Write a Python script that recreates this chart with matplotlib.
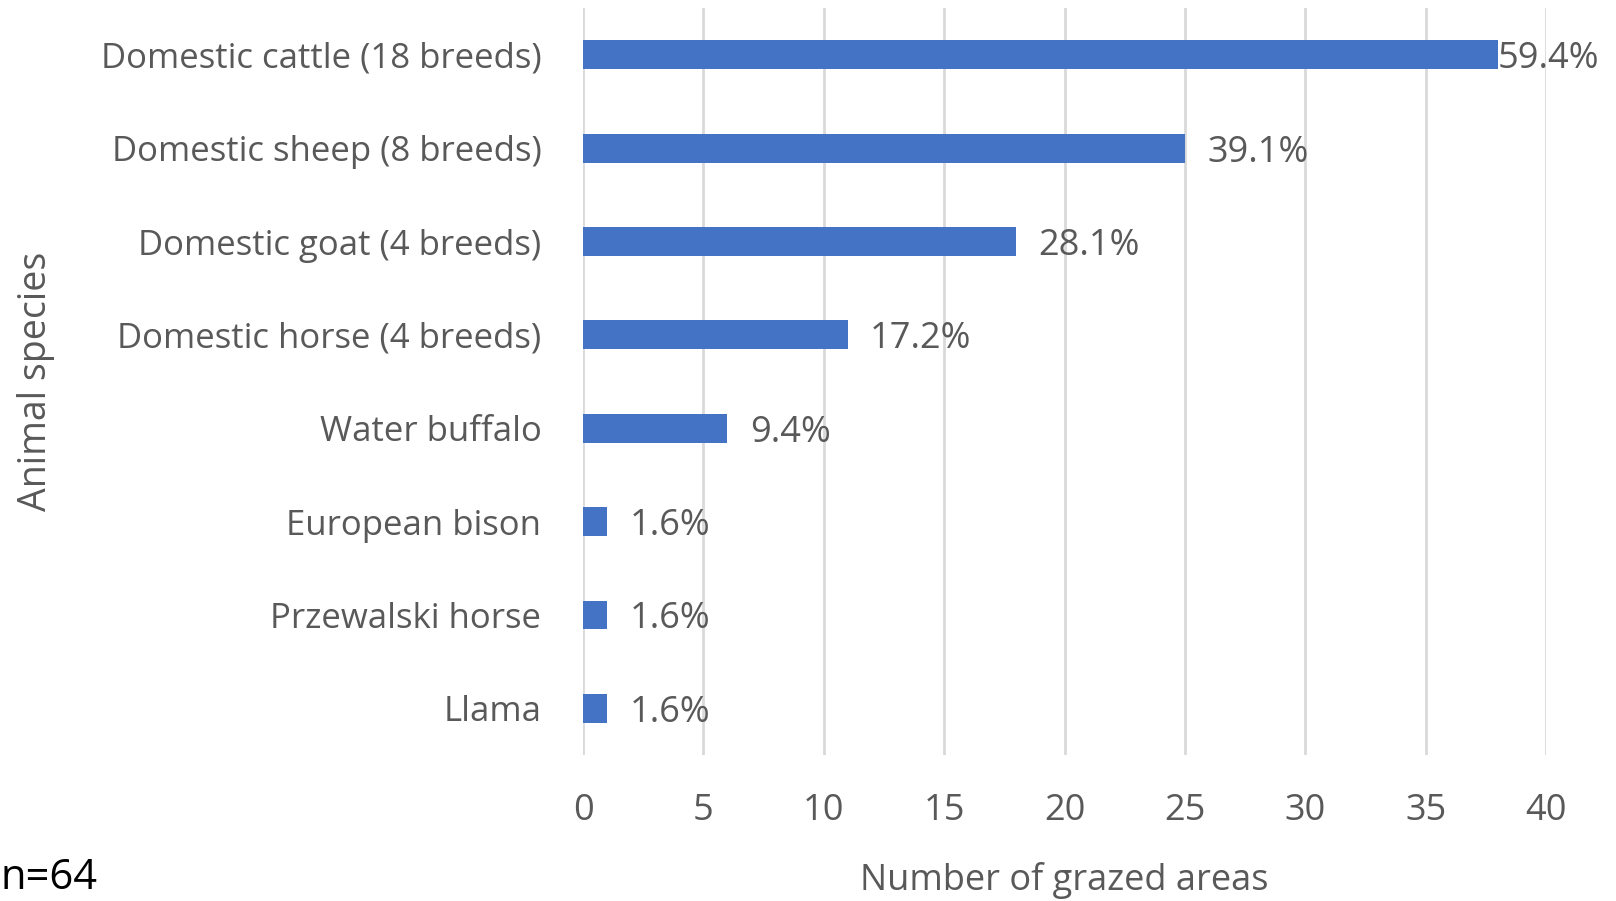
import matplotlib
import matplotlib.pyplot as plt

matplotlib.use('Agg')

species = ["Domestic cattle (18 breeds)", "Domestic sheep (8 breeds)", "Domestic goat (4 breeds)",
           "Domestic horse (4 breeds)", "Water buffalo", "European bison", "Przewalski horse", "Llama"]
areas = [38, 25, 18, 11, 6, 1, 1, 1]
pct_labels = ["59.4%", "39.1%", "28.1%", "17.2%", "9.4%", "1.6%", "1.6%", "1.6%"]
x_ticks = [0, 5, 10, 15, 20, 25, 30, 35, 40]

grey = "#595959"
bar_color = "#4472C4"

plt.rcParams['font.family'] = ['Open Sans', 'DejaVu Sans']
plt.rcParams['text.color'] = grey
plt.rcParams['axes.labelcolor'] = grey
plt.rcParams['xtick.color'] = grey
plt.rcParams['ytick.color'] = grey

fig = plt.figure(figsize=(16.16, 9.01), dpi=100)
ax = fig.add_axes([0.3608, 0.162, 0.5959, 0.829])

pos = list(range(len(species)))
bars = ax.barh(pos, areas, height=0.31, color=bar_color, zorder=3)

ax.set_ylim(len(species) - 0.5, -0.5)
ax.set_xlim(0, 40)
ax.set_xticks(x_ticks)
ax.set_yticks(pos)
ax.set_yticklabels(species, fontsize=25, va='center_baseline')
ax.tick_params(axis='x', labelsize=26, length=0, pad=27)
ax.tick_params(axis='y', length=0, pad=30)

ax.grid(axis='x', color="#D9D9D9", linewidth=2, zorder=0)
for sp in ax.spines.values():
    sp.set_visible(False)

for i, (b, lbl) in enumerate(zip(bars, pct_labels)):
    off = 0 if i == 0 else 16
    ax.annotate(lbl, (b.get_width(), b.get_y() + b.get_height() / 2), xytext=(off, 0),
                textcoords='offset points', va='center_baseline', ha='left', fontsize=26,
                color=grey, zorder=4)

ax.set_xlabel("Number of grazed areas", fontsize=26, labelpad=24)
fig.text(0.022, 0.577, "Animal species", rotation=90, fontsize=27, color=grey, ha='center', va='center')
fig.text(0.0, 0.026, "n=64", fontsize=30, color="black", ha='left', va='center')

plt.savefig("out.png", dpi=100)
plt.close()
